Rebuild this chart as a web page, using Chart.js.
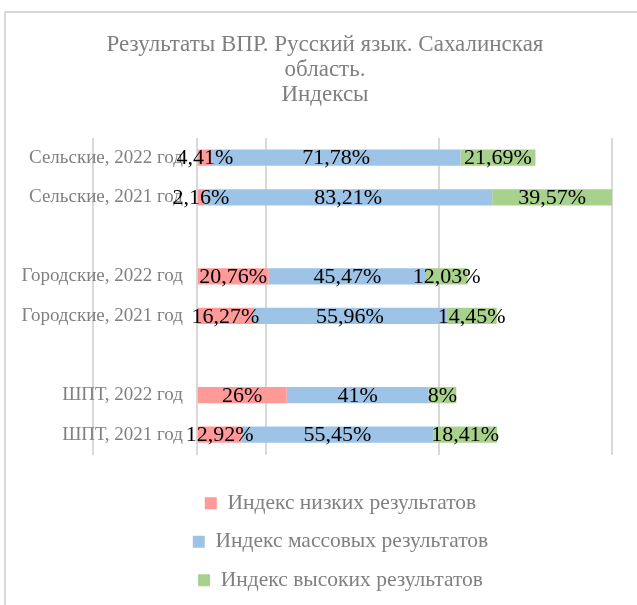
<!DOCTYPE html>
<html>
<head>
<meta charset="utf-8">
<title>ВПР индексы</title>
<script src="https://cdn.jsdelivr.net/npm/chart.js@4.4.0/dist/chart.umd.min.js"></script>
<style>
  body { margin: 0; background: #fff; }
  canvas { display: block; }
</style>
</head>
<body>
<canvas id="myChart" width="637" height="605"></canvas>
<script>
// категории (пустые строки - промежутки между группами)
const categories = [
  'Сельские, 2022 год',
  'Сельские, 2021 год',
  '',
  'Городские, 2022 год',
  'Городские, 2021 год',
  '',
  'ШПТ, 2022 год',
  'ШПТ, 2021 год'
];

const lowIndex  = [4.41, 2.16, null, 20.76, 16.27, null, 26, 12.92];
const massIndex = [71.78, 83.21, null, 45.47, 55.96, null, 41, 55.45];
const highIndex = [21.69, 39.57, null, 12.03, 14.45, null, 8, 18.41];

const seriesNames = [
  'Индекс низких результатов',
  'Индекс массовых результатов',
  'Индекс высоких результатов'
];

const titleLines = ['Результаты ВПР. Русский язык. Сахалинская', 'область.', 'Индексы'];

const serif = "'Liberation Serif', 'Times New Roman', serif";

// рамка как у диаграммы Excel
const framePlugin = {
  id: 'frame',
  beforeDraw(chart) {
    const ctx = chart.ctx;
    ctx.save();
    ctx.strokeStyle = '#d9d9d9';
    ctx.lineWidth = 2;
    ctx.beginPath();
    ctx.moveTo(5, chart.height);
    ctx.lineTo(5, 12);
    ctx.lineTo(chart.width, 12);
    ctx.stroke();
    ctx.restore();
  }
};

// легенду чуть левее, как в оригинале
const legendShift = {
  id: 'legendShift',
  afterLayout(chart) {
    chart.legend.left -= 12;
    chart.legend.right -= 12;
  }
};

// подписи значений в центре сегментов
const valueLabels = {
  id: 'valueLabels',
  afterDatasetsDraw(chart) {
    const ctx = chart.ctx;
    const area = chart.chartArea;
    ctx.save();
    ctx.font = '22px ' + serif;
    ctx.fillStyle = '#000';
    ctx.textAlign = 'center';
    ctx.textBaseline = 'middle';
    chart.data.datasets.forEach((ds, i) => {
      const meta = chart.getDatasetMeta(i);
      meta.data.forEach((bar, j) => {
        const v = ds.data[j];
        if (v === null || v === undefined) return;
        let a = Math.max(Math.min(bar.base, bar.x), area.left);
        let b = Math.min(Math.max(bar.base, bar.x), area.right);
        let text = String(v).replace('.', ',') + '%';
        ctx.fillText(text, (a + b) / 2, bar.y + 1);
      });
    });
    ctx.restore();
  }
};

const myChart = document.getElementById('myChart');

let barChart = new Chart(myChart, {
  type: 'bar',
  data: {
    labels: categories,
    datasets: [
      { label: seriesNames[0], data: lowIndex, backgroundColor: '#ff9a99' },
      { label: seriesNames[1], data: massIndex, backgroundColor: '#9dc3e6' },
      { label: seriesNames[2], data: highIndex, backgroundColor: '#a9d18e' }
    ]
  },
  options: {
    indexAxis: 'y',
    responsive: false,
    animation: false,
    devicePixelRatio: 1,
    categoryPercentage: 1,
    barPercentage: 0.41,
    layout: {
      padding: { top: 32, left: 13, right: 0, bottom: 4 }
    },
    scales: {
      x: {
        stacked: true,
        min: -30,
        max: 120,
        ticks: { display: false, stepSize: 50 },
        grid: { color: '#d9d9d9', lineWidth: 2, drawTicks: false },
        border: { display: false },
        // линия нуля (вертикальная ось)
        afterBuildTicks(scale) {
          scale.ticks.push({ value: 0 });
          scale.ticks.sort((a, b) => a.value - b.value);
        },
        afterFit(scale) { scale.height += 21; }
      },
      y: {
        stacked: true,
        position: { x: -4 },
        grid: { display: false, drawTicks: false },
        border: { display: false },
        ticks: {
          color: '#808080',
          font: { family: serif, size: 19 }
        }
      },
      // пустые оси только для отступов области построения
      yLeft: {
        type: 'category',
        position: 'left',
        grid: { display: false },
        border: { display: false },
        ticks: { display: false },
        afterFit(scale) { scale.width = 80; }
      },
      yRight: {
        type: 'category',
        position: 'right',
        grid: { display: false },
        border: { display: false },
        ticks: { display: false },
        afterFit(scale) { scale.width = 25; }
      }
    },
    plugins: {
      title: {
        display: true,
        text: titleLines,
        color: '#808080',
        font: { family: serif, size: 23, weight: 'normal', lineHeight: 1.1 },
        padding: { top: 0, bottom: 30 }
      },
      legend: {
        position: 'bottom',
        fullSize: false,
        labels: {
          color: '#808080',
          boxWidth: 12,
          boxHeight: 12,
          padding: 17,
          font: { family: serif, size: 21.5 }
        }
      },
      tooltip: { enabled: false }
    }
  },
  plugins: [framePlugin, legendShift, valueLabels]
});

console.log(barChart.chartArea);
</script>
</body>
</html>
